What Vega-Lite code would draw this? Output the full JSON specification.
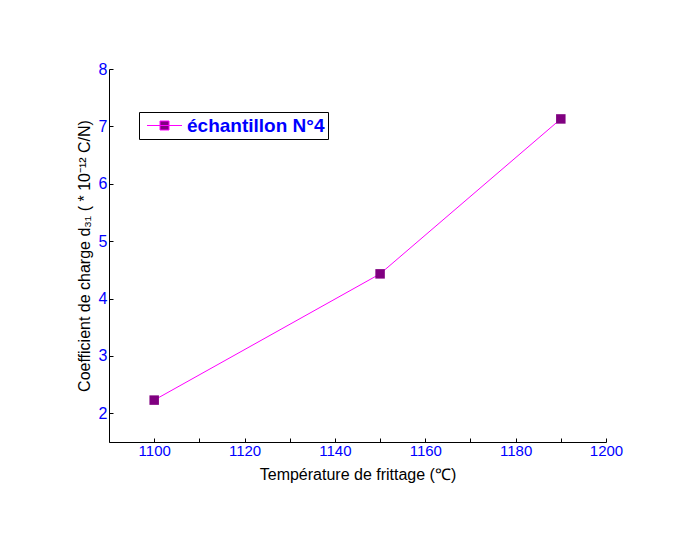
{
  "$schema": "https://vega.github.io/schema/vega-lite/v6.json",
  "width": 497,
  "height": 373,
  "padding": {"left": 76, "top": 61, "right": 5, "bottom": 5},
  "background": "white",
  "config": {
    "view": {"stroke": null},
    "font": "Liberation Sans",
    "axis": {"grid": false, "domainColor": "black", "tickColor": "black", "labelColor": "#0000ff", "titleColor": "black", "labelFont": "Liberation Sans", "titleFont": "Liberation Sans", "titleFontWeight": "normal", "labelOverlap": false}
  },
  "data": {
    "values": [
      {"temp": 1100, "d31": 2.23, "serie": "échantillon N°4"},
      {"temp": 1150, "d31": 4.43, "serie": "échantillon N°4"},
      {"temp": 1190, "d31": 7.13, "serie": "échantillon N°4"}
    ]
  },
  "encoding": {
    "x": {
      "field": "temp", "type": "quantitative",
      "scale": {"domain": [1090, 1200], "nice": false, "zero": false},
      "axis": {
        "title": "Température de frittage (℃)",
        "values": [1090, 1100, 1110, 1120, 1130, 1140, 1150, 1160, 1170, 1180, 1190, 1200],
        "labelExpr": "datum.value % 20 === 0 ? datum.label : ''",
        "format": "d",
        "tickSize": -4, "labelPadding": 5, "labelFontSize": 15, "titleFontSize": 16, "titlePadding": 8, "labelFlush": false
      }
    },
    "y": {
      "field": "d31", "type": "quantitative",
      "scale": {"domain": [1.5, 8], "nice": false, "zero": false},
      "axis": {
        "title": "Coefficient de charge d₃₁ ( * 10⁻¹²  C/N)",
        "values": [2, 3, 4, 5, 6, 7, 8],
        "format": "d",
        "tickSize": -4, "labelPadding": 6, "labelFontSize": 16, "titleFontSize": 16, "titlePadding": 6, "labelFlush": false
      }
    }
  },
  "layer": [
    {
      "mark": {"type": "line", "strokeWidth": 1},
      "encoding": {
        "color": {
          "field": "serie", "type": "nominal",
          "scale": {"range": ["#ff00ff"]},
          "legend": {
            "title": null,
            "orient": "none",
            "legendX": 30,
            "legendY": 43,
            "strokeColor": "black",
            "fillColor": "white",
            "padding": 3,
            "labelFontSize": 19,
            "labelFontWeight": "bold",
            "labelColor": "#0000ff",
            "labelFont": "Liberation Sans",
            "symbolSize": 400,
            "symbolOffset": 12,
            "symbolStrokeWidth": 1,
            "labelOffset": 12,
            "encode": {
              "symbols": {"update": {"fill": {"value": "#800080"}, "stroke": {"value": "#ff00ff"}, "shape": {"value": "M-1.75,0H1.75M-0.45,-0.45H0.45V0.45H-0.45Z"}}}
            }
          }
        }
      }
    },
    {
      "mark": {"type": "point", "shape": "square", "filled": true, "size": 90, "color": "#800080", "opacity": 1}
    }
  ]
}
